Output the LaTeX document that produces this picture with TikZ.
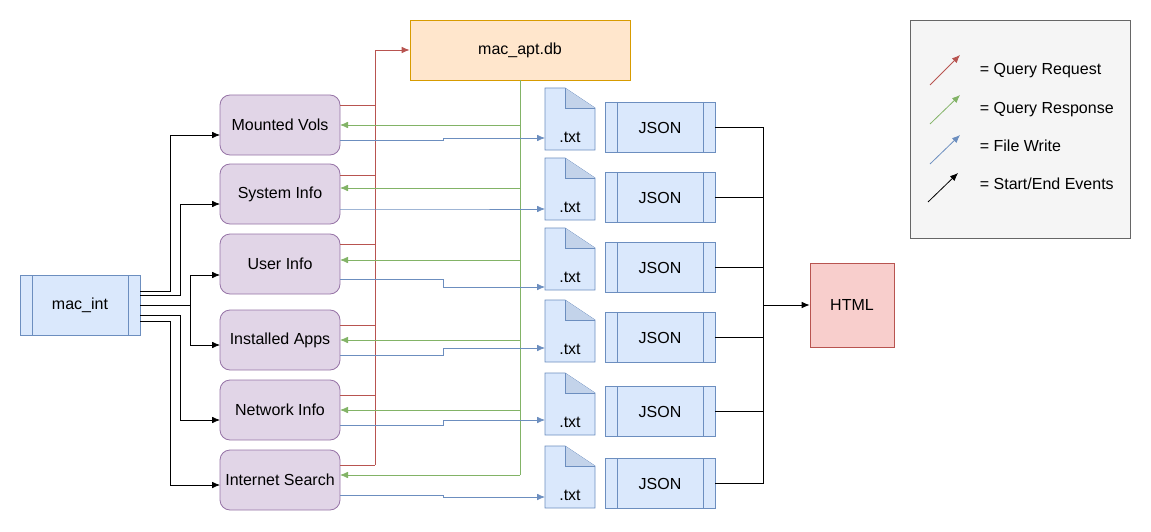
\documentclass[tikz,border=0pt]{standalone}
\usepackage{fontspec}
\setmainfont{Liberation Sans}
\usetikzlibrary{arrows.meta,calc}

\definecolor{redline}{HTML}{B85450}
\definecolor{greenline}{HTML}{82B366}
\definecolor{blueline}{HTML}{6C8EBF}
\definecolor{bluefill}{HTML}{DAE8FC}
\definecolor{foldfill}{HTML}{C3D3EA}
\definecolor{purplefill}{HTML}{E1D5E7}
\definecolor{purpleline}{HTML}{9673A6}
\definecolor{orangefill}{HTML}{FFE6CC}
\definecolor{orangeline}{HTML}{D79B00}
\definecolor{pinkfill}{HTML}{F8CECC}
\definecolor{greyfill}{HTML}{F5F5F5}
\definecolor{greyline}{HTML}{666666}

\tikzset{
  module/.style={shape=rectangle, draw=purpleline, fill=purplefill, rounded corners=7.5pt,
    minimum width=90pt, minimum height=45pt},
  proc/.style={shape=rectangle, draw=blueline, fill=bluefill, minimum height=38pt},
  request/.style={draw=redline, -{Latex[length=6pt,width=5pt]}},
  response/.style={draw=greenline, -{Latex[length=6pt,width=5pt]}},
  write/.style={draw=blueline, -{Latex[length=6pt,width=5pt]}},
  event/.style={draw=black, -{Latex[length=6pt,width=5pt]}},
}

\begin{document}
\begin{tikzpicture}[x=0.75pt, y=-0.75pt, font=\fontsize{12}{14}\selectfont, line width=0.6pt]
\useasboundingbox (0,0) rectangle (1151,531);

% legend
\node [shape=rectangle, draw=greyline, fill=greyfill, minimum width=165pt, minimum height=164pt] (legend) at (1020,129.5) {};
\draw [request] (930,85) -- (960,55);
\draw [response] (930,124) -- (960,95);
\draw [write] (930,164) -- (960,135);
\draw [event] (928,202) -- (958,173);
\node [anchor=west] (l1) at (975,71) {= Query Request};
\node [anchor=west] (l2) at (975,110) {= Query Response};
\node [anchor=west] (l3) at (975,146) {= File Write};
\node [anchor=west] (l4) at (975,184) {= Start/End Events};

% database and start / end
\node [shape=rectangle, draw=orangeline, fill=orangefill, minimum width=165pt, minimum height=45pt] (db) at (520,50) {mac\_apt.db};
\node [proc, minimum width=90pt, minimum height=45pt] (macint) at (80,305) {mac\_int};
\draw [blueline] (32,275) -- (32,335) (128,275) -- (128,335);
\node [shape=rectangle, draw=redline, fill=pinkfill, minimum width=63pt, minimum height=63pt] (html) at (852,305) {HTML};

% modules
\foreach \i/\name/\y in {1/Mounted Vols/125, 2/System Info/194, 3/User Info/264,
                         4/Installed Apps/340, 5/Network Info/410, 6/Internet Search/480}
  \node [module] (m\i) at (280,\y) {\name};

% txt files and JSON
\foreach \i/\ty/\jy in {1/88/127.5, 2/158/197.5, 3/228/267.5, 4/300/337.5, 5/373/411.5, 6/446/483.5} {
  \draw [blueline, fill=bluefill] (545,\ty) -- (565,\ty) -- (595,\ty+20) -- (595,\ty+62) -- (545,\ty+62) -- cycle;
  \draw [blueline, fill=foldfill] (565,\ty) -- (565,\ty+20) -- (595,\ty+20);
  \node (t\i) at (570,\ty+49) {.txt};
  \node [proc, minimum width=82.5pt] (j\i) at (660,\jy) {JSON};
  \draw [blueline] (617,\jy-25.5) -- (617,\jy+25.5) (703,\jy-25.5) -- (703,\jy+25.5);
  \draw (j\i.east) -- (763,\jy);
}
\coordinate (bus) at (763,305);
\draw (763,127.5) -- (763,483.5);
\draw [event] (bus) -- (html.west);

% queries
\coordinate (reqtop) at (375,50);
\draw [redline] (375,465) -- (reqtop);
\draw [request] (reqtop) -- (db.west);
\coordinate (resbot) at (520,475);
\draw [greenline] (db.south -| resbot) -- (resbot);
\foreach \i/\gy/\by/\ty in {1/125/140/138, 2/188/209/209, 3/260/279/287,
                            4/340/355/348, 5/410/425/420, 6/475/495/497} {
  \draw [response] (520,\gy) -- (340,\gy);
  \draw [write] (340,\by) -- (443,\by) -- (443,\ty) -- (545,\ty);
}
\foreach \i/\ry in {1/105, 2/175, 3/244, 4/325, 5/395, 6/465}
  \draw [redline] (340,\ry) -- (375,\ry);

% start events
\draw [event] (140,291) -- (170,291) |- (220,135);
\draw [event] (140,295) -- (180,295) |- (220,204);
\draw [event] (140,305) -- (190,305) |- (220,275);
\draw [event] (190,305) |- (220,345);
\draw [event] (140,315) -- (180,315) |- (220,420);
\draw [event] (140,321) -- (170,321) |- (220,485);
\end{tikzpicture}
\end{document}
